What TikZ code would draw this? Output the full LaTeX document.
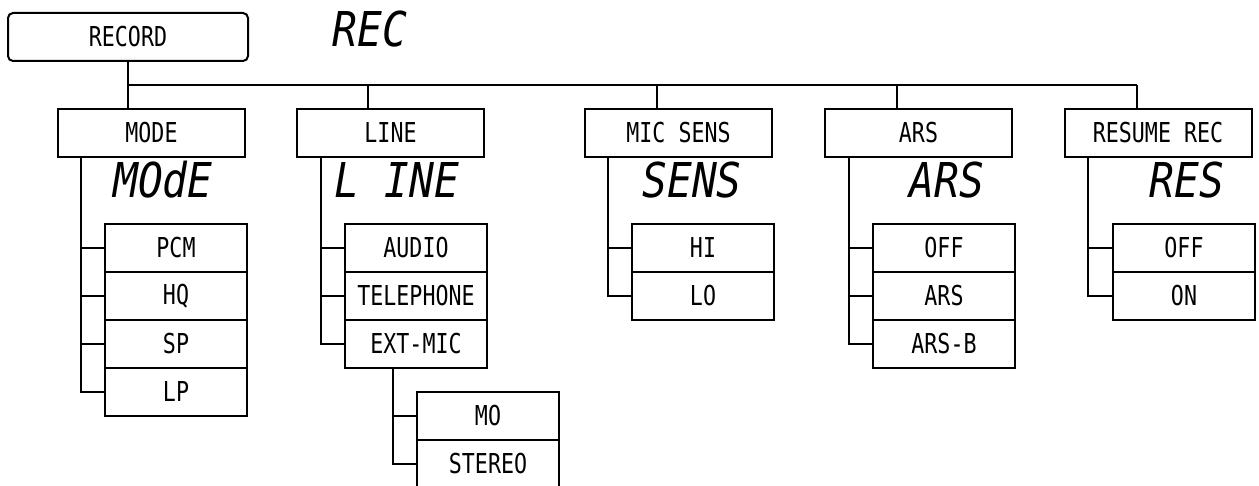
\documentclass[tikz,border=0pt]{standalone}
\usepackage{fontspec}
\newfontfamily\lblfontfam[FakeStretch=0.79]{DejaVu Sans Mono}
\newfontfamily\segfontfam[FakeStretch=0.86]{DejaVu Sans Mono}
\newcommand{\lblf}{\lblfontfam\fontsize{27.4}{30}\selectfont}
\newcommand{\segf}{\segfontfam\itshape\fontsize{48}{52}\selectfont}
\begin{document}
\begin{tikzpicture}[x=1pt,y=-1pt,
  box/.style={draw, line width=2pt, minimum height=48pt, inner sep=0pt, font=\lblf},
  cat/.style={box, minimum width=187pt},
  opt/.style={box, minimum width=142pt},
  seg/.style={font=\segf, inner sep=0pt},
  wire/.style={line width=2pt}]
\useasboundingbox (0,0) rectangle (1259,486);

% root
\node[box, rounded corners=5pt, minimum width=240pt] (rec) at (128,37) {RECORD};
\node[seg] (recseg) at (370,29) {REC};

% categories
\node[cat] (mode) at (151.5,133) {MODE};
\node[cat] (line) at (390.5,133) {LINE};
\node[cat] (sens) at (678.5,133) {MIC SENS};
\node[cat] (ars) at (918.5,133) {ARS};
\node[cat] (res) at (1158,133) {RESUME REC};

% segment displays
\node[seg] (modeseg) at (163,180) {MOdE};
\node[seg] (lineseg) at (397,180) {L INE};
\node[seg] (sensseg) at (692,180) {SENS};
\node[seg] (arsseg) at (947,180) {ARS};
\node[seg] (resseg) at (1187,180) {RES};

% bus
\coordinate (jmode) at (128,85);
\coordinate (jline) at (368,85);
\coordinate (jsens) at (657,85);
\coordinate (jars) at (897,85);
\coordinate (jres) at (1137,85);
\draw[wire] (rec.south) -- (rec.south |- mode.north);
\draw[wire] (jmode) -- (jres);
\draw[wire] (jline) -- (jline |- line.north);
\draw[wire] (jsens) -- (jsens |- sens.north);
\draw[wire] (jars) -- (jars |- ars.north);
\draw[wire] (jres) -- (jres |- res.north);

% MODE options
\node[opt] (pcm) at (176,248) {PCM};
\node[opt] (hq) at (176,296) {HQ};
\node[opt] (sp) at (176,344) {SP};
\node[opt] (lp) at (176,392) {LP};
\coordinate (tmode) at (81,0);
\draw[wire] (tmode |- mode.south) |- (lp.west);
\draw[wire] (tmode |- pcm.west) -- (pcm.west);
\draw[wire] (tmode |- hq.west) -- (hq.west);
\draw[wire] (tmode |- sp.west) -- (sp.west);

% LINE options
\node[opt] (audio) at (416,248) {AUDIO};
\node[opt] (tel) at (416,296) {TELEPHONE};
\node[opt] (ext) at (416,344) {EXT-MIC};
\coordinate (tline) at (321,0);
\draw[wire] (tline |- line.south) |- (ext.west);
\draw[wire] (tline |- audio.west) -- (audio.west);
\draw[wire] (tline |- tel.west) -- (tel.west);

% EXT-MIC options
\node[opt] (mo) at (488,416) {MO};
\node[opt] (stereo) at (488,464) {STEREO};
\coordinate (text) at (393,0);
\draw[wire] (text |- ext.south) |- (stereo.west);
\draw[wire] (text |- mo.west) -- (mo.west);

% MIC SENS options
\node[opt] (hi) at (703,248) {HI};
\node[opt] (lo) at (703,296) {LO};
\coordinate (tsens) at (608,0);
\draw[wire] (tsens |- sens.south) |- (lo.west);
\draw[wire] (tsens |- hi.west) -- (hi.west);

% ARS options
\node[opt] (aoff) at (944,248) {OFF};
\node[opt] (aars) at (944,296) {ARS};
\node[opt] (aarsb) at (944,344) {ARS-B};
\coordinate (tars) at (849,0);
\draw[wire] (tars |- ars.south) |- (aarsb.west);
\draw[wire] (tars |- aoff.west) -- (aoff.west);
\draw[wire] (tars |- aars.west) -- (aars.west);

% RESUME REC options
\node[opt] (roff) at (1184,248) {OFF};
\node[opt] (ron) at (1184,296) {ON};
\coordinate (tres) at (1088,0);
\draw[wire] (tres |- res.south) |- (ron.west);
\draw[wire] (tres |- roff.west) -- (roff.west);
\end{tikzpicture}
\end{document}
